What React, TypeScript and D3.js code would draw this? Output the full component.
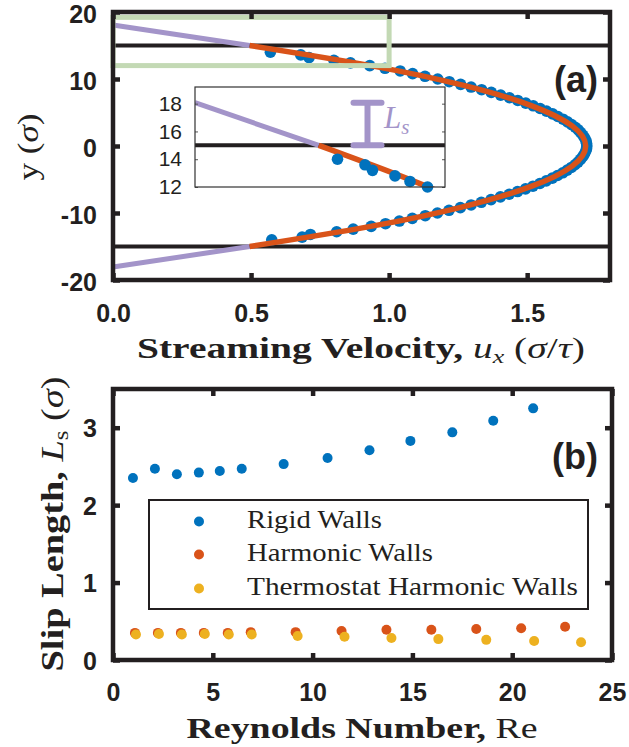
import React, { useEffect, useRef } from 'react';
import * as d3 from 'd3';

// ---------- panel (a): streaming velocity profile ----------
// MD bins, y in sigma, u_x in sigma/tau
const profileY = [
  14.0, 13.6, 13.2, 12.8, 12.4, 12.0, 11.6, 11.2, 10.8, 10.4, 10.0, 9.6, 9.2, 8.8, 8.4, 8.0, 7.6, 7.2,
  6.8, 6.4, 6.0, 5.6, 5.2, 4.8, 4.4, 4.0, 3.6, 3.2, 2.8, 2.4, 2.0, 1.6, 1.2, 0.8, 0.4, 0.0,
  -0.4, -0.8, -1.2, -1.6, -2.0, -2.4, -2.8, -3.2, -3.6, -4.0, -4.4, -4.8, -5.2, -5.6, -6.0, -6.4, -6.8,
  -7.2, -7.6, -8.0, -8.4, -8.8, -9.2, -9.6, -10.0, -10.4, -10.8, -11.2, -11.6, -12.0, -12.4, -12.8,
  -13.2, -13.6, -14.0,
];
const profileU = [
  0.57, 0.68, 0.71, 0.8, 0.86, 0.93, 0.985, 1.04, 1.085, 1.13, 1.176, 1.218, 1.259, 1.297, 1.335, 1.37,
  1.404, 1.436, 1.466, 1.495, 1.522, 1.547, 1.57, 1.592, 1.611, 1.63, 1.646, 1.661, 1.674, 1.685, 1.694,
  1.702, 1.708, 1.713, 1.715, 1.716,
  1.715, 1.712, 1.707, 1.701, 1.693, 1.684, 1.673, 1.66, 1.645, 1.629, 1.61, 1.591, 1.569, 1.546, 1.521,
  1.494, 1.465, 1.435, 1.403, 1.369, 1.334, 1.297, 1.258, 1.217, 1.175, 1.131, 1.084, 1.037, 0.987, 0.935,
  0.87, 0.81, 0.715, 0.685, 0.575,
];
const fitY = [15, 12, 9, 6, 3, 0, -3, -6, -9, -12, -15];
const fitU = [0.495, 0.933, 1.274, 1.517, 1.663, 1.712, 1.663, 1.517, 1.274, 0.933, 0.495];
// linear extrapolation of the fit to zero velocity (slip length)
const slipTopY = [18.07, 15];
const slipBotY = [-18.07, -15];
const slipU = [0, 0.495];
const wallY = [15, -15];
const lsMarkU = 0.69;

const uTicks = [0, 0.5, 1.0, 1.5];
const yTicks = [-20, -10, 0, 10, 20];
const insetTicks = [12, 14, 16, 18];

// ---------- panel (b): slip length vs Reynolds number ----------
const rigidRe = [1.0, 2.1, 3.2, 4.3, 5.35, 6.45, 8.55, 10.75, 12.85, 14.9, 17.0, 19.05, 21.05];
const rigidLs = [2.35, 2.47, 2.4, 2.42, 2.44, 2.47, 2.53, 2.61, 2.71, 2.83, 2.94, 3.09, 3.25];
const harmRe = [1.1, 2.25, 3.4, 4.55, 5.75, 6.9, 9.15, 11.45, 13.7, 15.95, 18.2, 20.45, 22.65];
const harmLs = [0.35, 0.35, 0.35, 0.35, 0.35, 0.36, 0.36, 0.375, 0.39, 0.39, 0.4, 0.41, 0.43];
const thermRe = [1.15, 2.3, 3.45, 4.6, 5.8, 6.95, 9.25, 11.6, 13.95, 16.3, 18.7, 21.1, 23.45];
const thermLs = [0.33, 0.335, 0.33, 0.335, 0.33, 0.33, 0.31, 0.3, 0.285, 0.27, 0.26, 0.245, 0.23];
const seriesNames = ['Rigid Walls', 'Harmonic Walls', 'Thermostat Harmonic Walls'];

const reTicks = [0, 5, 10, 15, 20, 25];
const lsTicks = [0, 1, 2, 3];

const ink = '#231f20';
const blue = '#0072bd';
const red = '#d95319';
const yellow = '#edb120';
const purple = '#a394c9';
const green = '#c3d9b4';
const sans = '"Liberation Sans", Arial, sans-serif';
const serif = '"Liberation Serif", "Times New Roman", serif';

type Part = { t: string; bold?: boolean; italic?: boolean; size?: number; dy?: number };

// text made of styled pieces (bold words, italic symbols, subscripts)
function richText(g: any, x: number, y: number, parts: Part[], o: any) {
  const t = g
    .append('text')
    .attr('transform', `translate(${x},${y})${o.rotate ? ' rotate(-90)' : ''}`)
    .attr('font-family', serif)
    .attr('font-size', o.size)
    .attr('fill', o.fill || ink)
    .attr('text-anchor', o.anchor || 'middle');
  if (o.length) t.attr('textLength', o.length).attr('lengthAdjust', 'spacingAndGlyphs');
  parts.forEach((p) => {
    const s = t.append('tspan').text(p.t);
    if (p.bold) s.attr('font-weight', 'bold');
    if (p.italic) s.attr('font-style', 'italic');
    if (p.size) s.attr('font-size', p.size);
    if (p.dy) s.attr('dy', p.dy);
  });
  return t;
}

// boxed axes, ticks pointing inward, labels on left/bottom only
function boxAxes(g: any, x: any, y: any, o: any) {
  const [x0, x1] = x.range();
  const [yb, yt] = y.range();
  const blank = () => '';
  const bottom = g.append('g').attr('transform', `translate(0,${yb})`)
    .call(d3.axisBottom(x).tickValues(o.xTicks).tickSizeInner(-o.tick).tickSizeOuter(0)
      .tickPadding(o.xPad ?? 0).tickFormat(o.xFmt || blank));
  g.append('g').attr('transform', `translate(0,${yt})`)
    .call(d3.axisTop(x).tickValues(o.xTicks).tickSizeInner(-o.tick).tickSizeOuter(0).tickFormat(blank));
  const left = g.append('g').attr('transform', `translate(${x0},0)`)
    .call(d3.axisLeft(y).tickValues(o.yTicks).tickSizeInner(-o.tick).tickSizeOuter(0)
      .tickPadding(o.yPad ?? 0).tickFormat(o.yFmt || blank));
  g.append('g').attr('transform', `translate(${x1},0)`)
    .call(d3.axisRight(y).tickValues(o.yTicks).tickSizeInner(-o.tick).tickSizeOuter(0).tickFormat(blank));
  g.selectAll('.domain').remove();
  g.selectAll('.tick line').attr('stroke', ink).attr('stroke-width', o.tickW);
  [bottom, left].forEach((a) =>
    a.attr('font-family', sans).attr('font-size', o.font).attr('font-weight', o.weight)
      .selectAll('text').attr('fill', ink));
  if (o.yDy) left.selectAll('text').attr('dy', o.yDy);
  g.append('rect')
    .attr('x', x0).attr('y', yt).attr('width', x1 - x0).attr('height', yb - yt)
    .attr('fill', 'none').attr('stroke', ink).attr('stroke-width', o.frameW);
}

function drawProfile(g: any) {
  const x = d3.scaleLinear().domain([0, 1.8]).range([113, 610]);
  const y = d3.scaleLinear().domain([-20, 20]).range([280, 12]);
  const pts = profileY.map((v, i) => ({ y: v, u: profileU[i] }));
  const fit = fitY.map((v, i) => ({ y: v, u: fitU[i] }));

  const line = (sx: any, sy: any, curve: any) =>
    d3.line<any>().x((d) => sx(d.u)).y((d) => sy(d.y)).curve(curve);

  // walls
  wallY.forEach((w) =>
    g.append('line').attr('x1', x(0)).attr('x2', x(1.8)).attr('y1', y(w)).attr('y2', y(w))
      .attr('stroke', ink).attr('stroke-width', 4));

  // slip extrapolation
  [slipTopY, slipBotY].forEach((ys) =>
    g.append('path').datum(ys.map((v, i) => ({ y: v, u: slipU[i] })))
      .attr('d', line(x, y, d3.curveLinear)).attr('fill', 'none')
      .attr('stroke', purple).attr('stroke-width', 5));

  g.selectAll('circle.pt').data(pts).enter().append('circle')
    .attr('cx', (d: any) => x(d.u)).attr('cy', (d: any) => y(d.y)).attr('r', 5.8).attr('fill', blue);

  g.append('path').datum(fit).attr('d', line(x, y, d3.curveNatural))
    .attr('fill', 'none').attr('stroke', red).attr('stroke-width', 5.5);

  // zoom box
  g.append('rect').attr('x', x(0)).attr('y', y(19.2)).attr('width', x(1) - x(0))
    .attr('height', y(12) - y(19.2)).attr('fill', 'none').attr('stroke', green).attr('stroke-width', 5);

  boxAxes(g, x, y, {
    xTicks: uTicks, yTicks, tick: 7, tickW: 4.5, frameW: 4.5, xPad: 24, yPad: 16, yDy: '0.42em',
    xFmt: d3.format('.1f'), yFmt: (d: number) => String(d), font: 25, weight: 'bold',
  });

  // ---- inset ----
  const ix = d3.scaleLinear().domain([0, 1]).range([195, 445]);
  const iy = d3.scaleLinear().domain([12, 19.2]).range([187, 87]);
  const inset = g.append('g');
  inset.append('rect').attr('x', 195).attr('y', 87).attr('width', 250).attr('height', 100).attr('fill', '#fff');
  inset.append('clipPath').attr('id', 'insetClip').append('rect')
    .attr('x', 195).attr('y', 87).attr('width', 250).attr('height', 100);
  const clipped = inset.append('g').attr('clip-path', 'url(#insetClip)');
  clipped.append('line').attr('x1', ix(0)).attr('x2', ix(1)).attr('y1', iy(15)).attr('y2', iy(15))
    .attr('stroke', ink).attr('stroke-width', 4);
  clipped.append('path').datum(slipTopY.map((v, i) => ({ y: v, u: slipU[i] })))
    .attr('d', line(ix, iy, d3.curveLinear)).attr('fill', 'none').attr('stroke', purple).attr('stroke-width', 5);
  inset.selectAll('circle.ipt').data(pts.filter((d) => d.y >= 11.9 && d.u <= 1)).enter().append('circle')
    .attr('cx', (d: any) => ix(d.u)).attr('cy', (d: any) => iy(d.y)).attr('r', 5.8).attr('fill', blue);
  clipped.append('path').datum(fit).attr('d', line(ix, iy, d3.curveNatural))
    .attr('fill', 'none').attr('stroke', red).attr('stroke-width', 5.5);

  // slip length marker
  const mx = ix(lsMarkU);
  inset.append('line').attr('x1', mx).attr('x2', mx).attr('y1', iy(15)).attr('y2', iy(slipTopY[0]))
    .attr('stroke', purple).attr('stroke-width', 6);
  [15, slipTopY[0]].forEach((v) =>
    inset.append('line').attr('x1', mx - 14).attr('x2', mx + 14).attr('y1', iy(v)).attr('y2', iy(v))
      .attr('stroke', purple).attr('stroke-width', 6).attr('stroke-linecap', 'round'));
  richText(inset, 384, 128, [
    { t: 'L', italic: true },
    { t: 's', italic: true, size: 21, dy: 6 },
  ], { size: 31, anchor: 'start', fill: purple });

  const il = inset.append('g').attr('transform', 'translate(195,0)')
    .call(d3.axisLeft(iy).tickValues(insetTicks).tickSizeInner(-3).tickSizeOuter(0).tickPadding(13));
  inset.append('g').attr('transform', 'translate(445,0)')
    .call(d3.axisRight(iy).tickValues(insetTicks).tickSizeInner(-3).tickSizeOuter(0).tickFormat(() => ''));
  inset.selectAll('.domain').remove();
  inset.selectAll('.tick line').attr('stroke', '#555').attr('stroke-width', 1);
  il.attr('font-family', sans).attr('font-size', 21).selectAll('text').attr('fill', ink);
  inset.append('rect').attr('x', 195).attr('y', 87).attr('width', 250).attr('height', 100)
    .attr('fill', 'none').attr('stroke', '#333').attr('stroke-width', 1.2);

  // labels
  g.append('text').attr('x', 598).attr('y', 92).attr('text-anchor', 'end')
    .attr('font-family', sans).attr('font-weight', 'bold').attr('font-size', 36).attr('fill', ink).text('(a)');
  richText(g, 361, 358, [
    { t: 'Streaming Velocity, ', bold: true },
    { t: 'u', italic: true },
    { t: 'x', italic: true, size: 19, dy: 5 },
    { t: ' (', dy: -5 },
    { t: 'σ', italic: true },
    { t: '/' },
    { t: 'τ', italic: true },
    { t: ')' },
  ], { size: 29, length: 448 });
  richText(g, 38, 147, [
    { t: 'y (' },
    { t: 'σ', italic: true },
    { t: ')' },
  ], { size: 29, rotate: true, length: 67 });
}

function drawSlip(g: any) {
  const x = d3.scaleLinear().domain([0, 25]).range([113, 612]);
  const y = d3.scaleLinear().domain([0, 3.5]).range([660, 389]);
  const series = [
    { re: rigidRe, ls: rigidLs, c: blue },
    { re: harmRe, ls: harmLs, c: red },
    { re: thermRe, ls: thermLs, c: yellow },
  ];
  series.forEach((s) =>
    g.append('g').selectAll('circle').data(s.re.map((r, i) => [r, s.ls[i]])).enter().append('circle')
      .attr('cx', (d: number[]) => x(d[0])).attr('cy', (d: number[]) => y(d[1])).attr('r', 5).attr('fill', s.c));

  boxAxes(g, x, y, {
    xTicks: reTicks, yTicks: lsTicks, tick: 7, tickW: 4.5, frameW: 4.5, xPad: 23, yPad: 16, yDy: '0.36em',
    xFmt: (d: number) => String(d), yFmt: (d: number) => String(d), font: 25, weight: 'bold',
  });

  // legend
  const lg = g.append('g');
  lg.append('rect').attr('x', 149).attr('y', 500).attr('width', 439).attr('height', 109)
    .attr('fill', '#fff').attr('stroke', ink).attr('stroke-width', 2);
  const widths = [135, 186, 331];
  const rows = [528, 561, 595];
  seriesNames.forEach((name, i) => {
    lg.append('circle').attr('cx', 199).attr('cy', rows[i] - 6.5).attr('r', 5).attr('fill', series[i].c);
    lg.append('text').attr('x', 247).attr('y', rows[i]).attr('font-family', serif).attr('font-size', 25)
      .attr('fill', ink).attr('textLength', widths[i]).attr('lengthAdjust', 'spacingAndGlyphs').text(name);
  });

  g.append('text').attr('x', 598).attr('y', 469).attr('text-anchor', 'end')
    .attr('font-family', sans).attr('font-weight', 'bold').attr('font-size', 36).attr('fill', ink).text('(b)');
  richText(g, 362, 738, [
    { t: 'Reynolds Number, ', bold: true },
    { t: 'Re' },
  ], { size: 30, length: 351 });
  richText(g, 63, 524, [
    { t: 'Slip Length, ', bold: true },
    { t: 'L', italic: true },
    { t: 's', size: 20, dy: 5 },
    { t: ' (', dy: -5 },
    { t: 'σ', italic: true },
    { t: ')' },
  ], { size: 31, rotate: true, length: 295 });
}

export default function App() {
  const ref = useRef<SVGSVGElement>(null);

  useEffect(() => {
    const svg = d3.select(ref.current);
    svg.selectAll('*').remove();
    drawProfile(svg.append('g'));
    drawSlip(svg.append('g'));
  }, []);

  return (
    <svg
      ref={ref}
      width={629}
      height={747}
      style={{ position: 'absolute', left: 0, top: 0, background: '#fff' }}
    />
  );
}
